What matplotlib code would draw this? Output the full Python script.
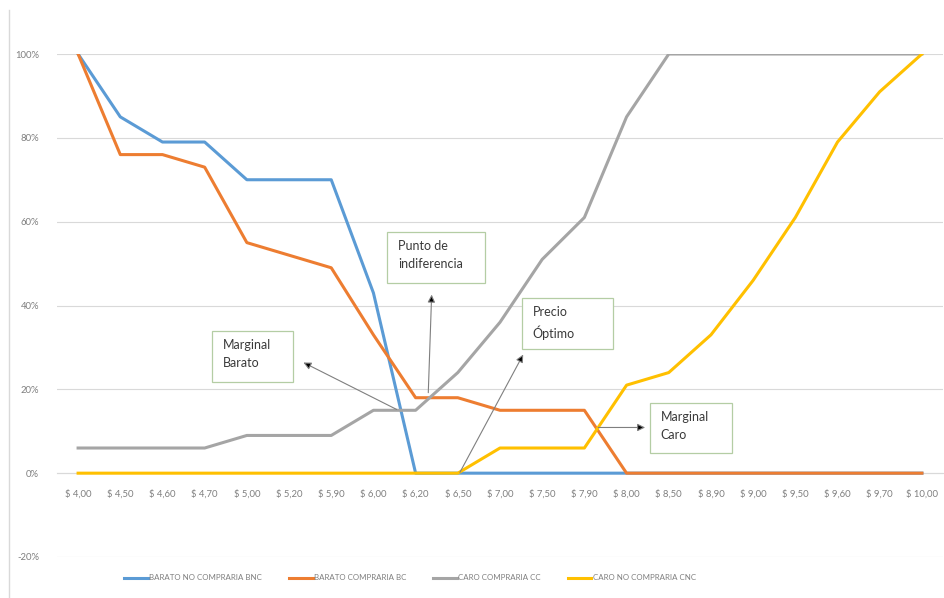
import matplotlib
matplotlib.use('Agg')
import matplotlib.pyplot as plt
from matplotlib.patches import Rectangle
from matplotlib.lines import Line2D

# %% Datos de sensibilidad al precio (Van Westendorp)
precios = ['$ 4,00', '$ 4,50', '$ 4,60', '$ 4,70', '$ 5,00', '$ 5,20', '$ 5,90',
           '$ 6,00', '$ 6,20', '$ 6,50', '$ 7,00', '$ 7,50', '$ 7,90', '$ 8,00',
           '$ 8,50', '$ 8,90', '$ 9,00', '$ 9,50', '$ 9,60', '$ 9,70', '$ 10,00']

barato_no_compraria = [100, 85, 79, 79, 70, 70, 70, 43, 0, 0, 0, 0, 0, 0,
                       0, 0, 0, 0, 0, 0, 0]
barato_compraria = [100, 76, 76, 73, 55, 52, 49, 33, 18, 18, 15, 15, 15, 0,
                    0, 0, 0, 0, 0, 0, 0]
caro_compraria = [6, 6, 6, 6, 9, 9, 9, 15, 15, 24, 36, 51, 61, 85,
                  100, 100, 100, 100, 100, 100, 100]
caro_no_compraria = [0, 0, 0, 0, 0, 0, 0, 0, 0, 0, 6, 6, 6, 21,
                     24, 33, 46, 61, 79, 91, 100]

series = [
    ('BARATO NO COMPRARIA BNC', barato_no_compraria, '#5B9BD5'),
    ('BARATO COMPRARIA BC', barato_compraria, '#ED7D31'),
    ('CARO COMPRARIA CC', caro_compraria, '#A5A5A5'),
    ('CARO NO COMPRARIA CNC', caro_no_compraria, '#FFC000'),
]

yticks = [-20, 0, 20, 40, 60, 80, 100]
ytick_labels = ['-20%', '0%', '20%', '40%', '60%', '80%', '100%']

plt.rcParams['font.family'] = ['Lato', 'DejaVu Sans']

# %% Figura
fig = plt.figure(figsize=(9.44, 5.98), dpi=100)
ax = fig.add_axes([57/944, 41/598, 886/944, 503/598])

x = list(range(len(precios)))
for nombre, valores, color in series:
    ax.plot(x, valores, color=color, lw=2.2, label=nombre, solid_joinstyle='round')

ax.set_xlim(-0.5, len(precios) - 0.5)
ax.set_ylim(-20, 100)
ax.set_yticks(yticks)
ax.set_yticklabels(ytick_labels)
ax.set_xticks(x)
ax.set_xticklabels(precios)

ax.grid(axis='y', color='#D9D9D9', lw=0.8)
ax.set_axisbelow(True)
for s in ['top', 'right', 'left']:
    ax.spines[s].set_visible(False)
ax.spines['bottom'].set_position(('data', 0))
ax.spines['bottom'].set_color('#D9D9D9')
ax.spines['bottom'].set_zorder(0)
ax.tick_params(axis='both', length=0, labelsize=6.8, labelcolor='#7F7F7F')
ax.tick_params(axis='y', pad=13)
ax.tick_params(axis='x', pad=12)

# %% Cuadros de texto con flechas
def cuadro(x0, y0, x1, y1, texto):
    ax.add_patch(Rectangle((x0, y0), x1 - x0, y1 - y0, facecolor='white',
                           edgecolor='#B4CDA4', lw=0.9, zorder=5))
    ax.text(x0 + 0.26, y1 - 1.9, texto, ha='left', va='top', fontsize=9,
            color='#3A3A3A', linespacing=1.6, zorder=6)

def flecha(desde, hasta):
    ax.annotate('', xy=hasta, xytext=desde, zorder=6,
                arrowprops=dict(arrowstyle='-|>,head_length=0.45,head_width=0.22',
                                mutation_scale=10, fc='black', ec='#7F7F7F',
                                lw=0.8, shrinkA=0, shrinkB=0))

cuadro(7.32, 45.4, 9.64, 57.5, 'Punto de\nindiferencia')
flecha((8.30, 19.2), (8.38, 42.6))

cuadro(3.17, 21.7, 5.10, 33.9, 'Marginal\nBarato')
flecha((7.55, 15.2), (5.34, 26.4))

cuadro(10.51, 29.7, 12.67, 41.8, 'Precio\nÓptimo')
flecha((9.05, 0.2), (10.55, 28.3))

cuadro(13.55, 4.8, 15.51, 16.8, 'Marginal\nCaro')
flecha((12.33, 10.9), (13.44, 10.9))

# %% Leyenda y borde
fig.legend(*ax.get_legend_handles_labels(), loc='center', ncol=4,
           bbox_to_anchor=(410/944, 1 - 578/598), frameon=False,
           fontsize=5.7, labelcolor='#7F7F7F', handlelength=3.0,
           columnspacing=3.4, handletextpad=0.15)

fig.add_artist(Line2D([9/944, 9/944], [0, 1 - 10/598], color='#D9D9D9', lw=1))

fig.savefig('out.png', dpi=100)
